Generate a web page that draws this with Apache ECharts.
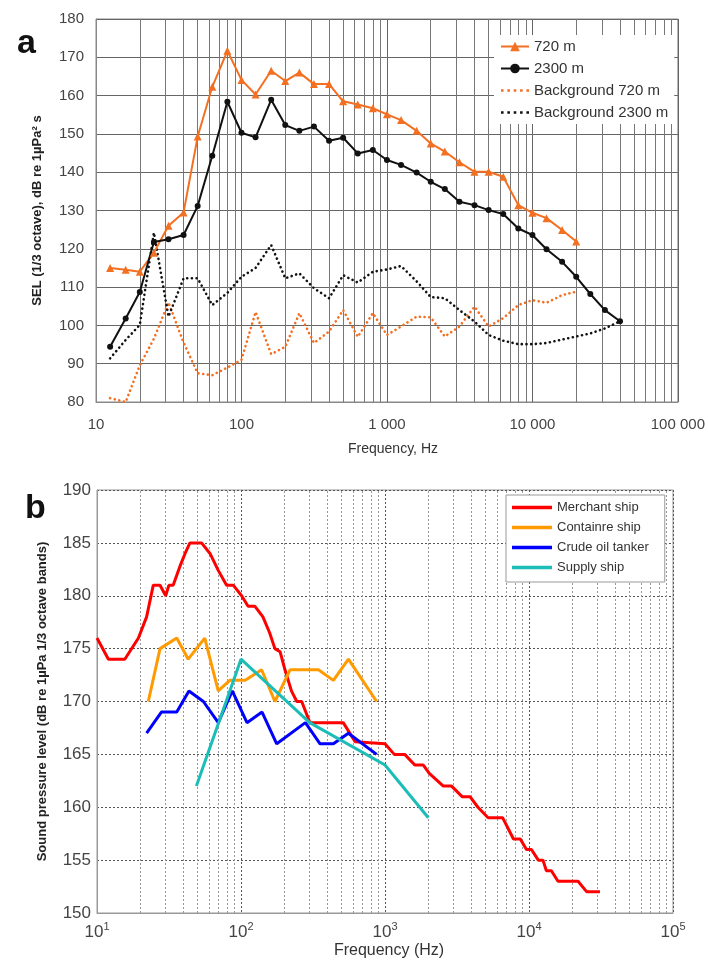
<!DOCTYPE html>
<html><head><meta charset="utf-8">
<script src="https://cdn.jsdelivr.net/npm/echarts@6/dist/echarts.min.js"></script>
<style>html,body{margin:0;padding:0;background:#fff}#c{width:708px;height:960px}</style>
</head><body><div id="c"></div>
<script>
// ---- Panel a ----
var freqA = [12.5,16,20,25,31.5,40,50,63,80,100,125,160,200,250,315,400,500,630,800,1000,1250,1600,2000,2500,3150,4000,5000,6300,8000,10000,12500,16000,20000,25000,31500,40000];
var sel720 = [115,114.5,114,119,126,129.5,149.3,162.3,171.7,164.1,160.3,166.5,163.8,166,163,163,158.5,157.7,156.7,155.1,153.6,150.8,147.5,145.4,142.6,140.1,140.1,138.8,131.4,129.4,128,124.9,121.9];
var sel2300 = [94.4,101.8,108.7,121.8,122.5,123.6,131.2,144.3,158.4,150.3,149.1,158.9,152.3,150.8,151.9,148.2,149,144.9,145.8,143.2,141.9,139.9,137.5,135.6,132.3,131.4,130.1,129.1,125.3,123.6,119.9,116.6,112.7,108.2,104,101.1];
var bg720 = [81,80,89.6,96.5,106,95.5,87.5,87,89,91,103.5,92.5,94.4,103.2,95.4,98.4,104,97,103.2,97.5,99.7,102.3,102.1,97.1,99.7,104.9,99.7,101.9,105.3,106.6,105.9,107.9,108.8];
var bg2300 = [91.4,96.2,100.1,124.2,102.3,112.3,112.3,105.3,108.5,112.7,115,121,112.3,113.6,109.7,107.1,113.1,111.2,114,114.6,115.5,111.5,107.4,107.1,104,101,97.5,96,95.1,95.1,95.4,96.3,97.1,97.9,99.2,101.1];
var namesA = ['720 m','2300 m','Background 720 m','Background 2300 m'];
var xTicksA = {10:'10',100:'100',1000:'1 000',10000:'10 000',100000:'100 000'};

// ---- Panel b ----
var merchF = [10,12,15.6,19.4,22.1,24.6,27.4,30,31.6,33.8,37.7,40.9,44.2,53.2,60.9,69.5,79.4,88.3,101,112,125,142,158,172,187,202,224,244,264,301,513,620,1000,1160,1370,1610,1840,2030,2540,2900,3430,3890,4420,5200,6570,7800,8700,9600,10400,11600,12500,13200,14300,15900,21900,25200,31100];
var merchV = [176,174,174,176,178,181,181,180,181,181,182.8,184,185,185,184,182.4,181,181,180,179,179,178,176.5,175,174.7,173,171,170,170,168,168,166.2,166,165,165,164,164,163.2,162,162,161,161,160,159,159,157,157,156,156,155,155,154,154,153,153,152,152];
var contF = [22.7,27.4,35.8,43,56,69.5,83.6,107,139,172,219,345,438,557,875];
var contV = [170,175,176,174,176,171,172,172,173,170,173,173,172,174,170];
var crudeF = [22.1,28,35.8,43.5,54.8,69.5,87,110,140,177,280,354,438,557,875];
var crudeV = [167,169,169,171,170,168,171,168,169,166,168,166,166,167,165];
var supF = [49,100,300,1000,2000];
var supV = [162,174,168,164,159];
var namesB = ['Merchant ship','Containre ship','Crude oil tanker','Supply ship'];

function pairs(f, v){ var o=[]; for(var i=0;i<v.length;i++) o.push([f[i], v[i]]); return o; }
function minors(lo, hi){ var o=[]; for(var d=lo; d<hi; d*=10){ for(var k=2;k<=9;k++) o.push({xAxis:d*k}); } return o; }

var DOTS = 'path://M0 0h2.6v2.6h-2.6z M6.4 0h2.6v2.6h-2.6z M12.8 0h2.6v2.6h-2.6z M19.2 0h2.6v2.6h-2.6z M25.6 0h2.6v2.6h-2.6z';

var FONT = 'Liberation Sans';
var chart = echarts.init(document.getElementById('c'), null, {renderer:'canvas'});
var option = {
  backgroundColor:'#fff',
  animation:false,
  textStyle:{fontFamily:FONT},
  title:[
    {text:'a', left:12, top:22, textStyle:{fontSize:34, fontWeight:'bold', color:'#111', fontFamily:FONT}},
    {text:'b', left:20, top:487, textStyle:{fontSize:34, fontWeight:'bold', color:'#111', fontFamily:FONT}},
    {text:'Frequency, Hz', left:388, top:437, textAlign:'center', textStyle:{fontSize:14, fontWeight:'normal', color:'#333', fontFamily:FONT}},
    {text:'Frequency (Hz)', left:384, top:938, textAlign:'center', textStyle:{fontSize:16, fontWeight:'normal', color:'#333', fontFamily:FONT}}
  ],
  grid:[
    {left:96, top:19, width:583, height:383, show:true, borderColor:'#888', borderWidth:1, backgroundColor:'#fff'},
    {left:97, top:490, width:576, height:423, show:true, borderColor:'#999', borderWidth:1, backgroundColor:'#fff'}
  ],
  legend:[
    {data:[{name:namesA[0]},{name:namesA[1]},{name:namesA[2], icon:DOTS},{name:namesA[3], icon:DOTS}],
     orient:'vertical', left:494, top:35, itemWidth:28, itemHeight:12, itemGap:7, z:20,
     backgroundColor:'#fff', padding:[4,6,4,6],
     textStyle:{fontSize:15, color:'#333', fontFamily:FONT}},
    {data:namesB.map(function(n){return {name:n, icon:'rect'};}), orient:'vertical', left:506, top:495, itemWidth:40, itemHeight:3.5, itemGap:7, z:20,
     backgroundColor:'#fff', borderColor:'#999', borderWidth:1, padding:[6,16,8,6],
     textStyle:{fontSize:13, color:'#333', fontFamily:FONT, lineHeight:13}}
  ],
  xAxis:[
    {type:'log', logBase:10, min:10, max:100000, gridIndex:0,
     axisLine:{show:true, lineStyle:{color:'#888'}}, axisTick:{show:false},
     axisLabel:{fontSize:15, color:'#444', margin:15, formatter:function(v){return xTicksA[Math.round(v)]||'';}},
     splitLine:{show:true, lineStyle:{color:'#666', width:1}}},
    {type:'log', logBase:10, min:10, max:100000, gridIndex:1,
     axisLine:{show:true, lineStyle:{color:'#999'}}, axisTick:{show:false},
     axisLabel:{margin:8, color:'#444', formatter:function(v){var e=Math.round(Math.log10(v)); return '{a|10}{s|'+e+'}';},
       rich:{a:{fontSize:17, color:'#444', lineHeight:22, fontFamily:FONT}, s:{fontSize:11, color:'#444', verticalAlign:'top', lineHeight:22, fontFamily:FONT}}},
     splitLine:{show:true, lineStyle:{color:'#555', width:1, type:[2,2]}}}
  ],
  yAxis:[
    {type:'value', min:80, max:180, interval:10, gridIndex:0,
     axisLine:{show:true, lineStyle:{color:'#888'}}, axisTick:{show:false},
     axisLabel:{fontSize:15, color:'#444', margin:12},
     splitLine:{show:true, lineStyle:{color:'#666', width:1}},
     name:'SEL (1/3 octave), dB re 1µPa² s', nameLocation:'middle', nameGap:52, nameRotate:90,
     nameTextStyle:{fontSize:13, fontWeight:'bold', color:'#222', fontFamily:FONT}},
    {type:'value', min:150, max:190, interval:5, gridIndex:1,
     axisLine:{show:true, lineStyle:{color:'#999'}}, axisTick:{show:false},
     axisLabel:{fontSize:17, color:'#444', margin:6},
     splitLine:{show:true, lineStyle:{color:'#555', width:1, type:[2,2]}},
     name:'Sound pressure level (dB re 1µPa 1/3 octave bands)', nameLocation:'middle', nameGap:48, nameRotate:90,
     nameTextStyle:{fontSize:13, fontWeight:'bold', color:'#222', fontFamily:FONT}}
  ],
  series:[
    {type:'line', xAxisIndex:0, yAxisIndex:0, data:[], silent:true, z:1,
     markLine:{silent:true, symbol:'none', label:{show:false}, animation:false, z:1,
       lineStyle:{color:'#777', width:1, type:'solid'}, data:minors(10,100000)}},
    {type:'line', xAxisIndex:1, yAxisIndex:1, data:[], silent:true, z:1,
     markLine:{silent:true, symbol:'none', label:{show:false}, animation:false, z:1,
       lineStyle:{color:'#999', width:1, type:[2,2]}, data:minors(10,100000)}},
    {name:namesA[2], type:'line', xAxisIndex:0, yAxisIndex:0, data:pairs(freqA,bg720), showSymbol:false, symbol:'none',
     lineStyle:{color:'#F36F21', width:2.6, type:[0.1,4.6], cap:'round'}, itemStyle:{color:'#F36F21'}, z:3},
    {name:namesA[3], type:'line', xAxisIndex:0, yAxisIndex:0, data:pairs(freqA,bg2300), showSymbol:false, symbol:'none',
     lineStyle:{color:'#111', width:2.6, type:[0.1,4.6], cap:'round'}, itemStyle:{color:'#111'}, z:3},
    {name:namesA[0], type:'line', xAxisIndex:0, yAxisIndex:0, data:pairs(freqA,sel720), symbol:'triangle', symbolSize:8,
     lineStyle:{color:'#F36F21', width:2}, itemStyle:{color:'#F36F21'}, z:4},
    {name:namesA[1], type:'line', xAxisIndex:0, yAxisIndex:0, data:pairs(freqA,sel2300), symbol:'circle', symbolSize:6,
     lineStyle:{color:'#111', width:2}, itemStyle:{color:'#111'}, z:4},
    {name:namesB[0], type:'line', xAxisIndex:1, yAxisIndex:1, data:pairs(merchF,merchV), symbol:'none',
     lineStyle:{color:'#FF0000', width:3}, itemStyle:{color:'#FF0000'}, z:3},
    {name:namesB[1], type:'line', xAxisIndex:1, yAxisIndex:1, data:pairs(contF,contV), symbol:'none',
     lineStyle:{color:'#FF9A00', width:3}, itemStyle:{color:'#FF9A00'}, z:3},
    {name:namesB[2], type:'line', xAxisIndex:1, yAxisIndex:1, data:pairs(crudeF,crudeV), symbol:'none',
     lineStyle:{color:'#0000FF', width:3}, itemStyle:{color:'#0000FF'}, z:3},
    {name:namesB[3], type:'line', xAxisIndex:1, yAxisIndex:1, data:pairs(supF,supV), symbol:'none',
     lineStyle:{color:'#1BBDB6', width:3}, itemStyle:{color:'#1BBDB6'}, z:3}
  ]
};
chart.setOption(option);
</script></body></html>
